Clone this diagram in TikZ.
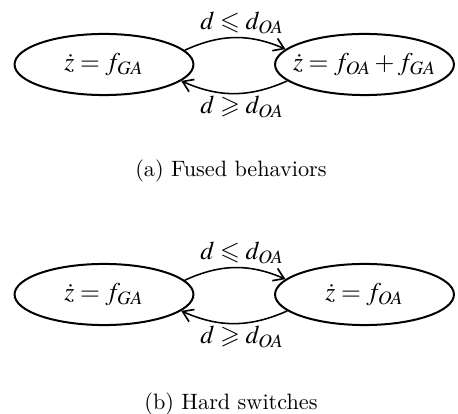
\documentclass[tikz,border=0pt]{standalone}
\usepackage{amssymb}
\usepackage{mathptmx}
\renewcommand{\rmdefault}{cmr}
\usetikzlibrary{shapes.geometric,arrows.meta}
\begin{document}
\begin{tikzpicture}[x=0.45pt,y=-0.45pt,
  state/.style={draw,ellipse,line width=0.9pt,inner xsep=-8pt,inner ysep=0pt,minimum width=80.5pt,minimum height=27.5pt,font=\fontsize{11.5}{14}\selectfont},
  lbl/.style={font=\fontsize{11.5}{14}\selectfont},
  captext/.style={font=\fontsize{10}{12}\fontfamily{cmr}\selectfont},
  trans/.style={line width=0.7pt,-{Straight Barb[length=4.5pt,width=6pt,line width=0.75pt]}}]
\useasboundingbox (0,0) rectangle (458,414);
% (a)
\node[state] (a1) at (104,64.5) {$\dot z = f_{GA}$};
\node[state] (a2) at (364.5,64.5) {$\dot z = f_{OA} + f_{GA}$};
\draw[trans] (a1.10) to[bend left=24] (a2.169);
\draw[trans] (a2.192) to[bend left=24] (a1.348);
\node[lbl] (a3) at (242,23) {$d \leqslant d_{OA}$};
\node[lbl] (a4) at (242,107) {$d \geqslant d_{OA}$};
\node[captext] (ca) at (231,171) {(a) Fused behaviors};
% (b)
\node[state] (b1) at (104,294.5) {$\dot z = f_{GA}$};
\node[state] (b2) at (364.5,294.5) {$\dot z = f_{OA}$};
\draw[trans] (b1.10) to[bend left=24] (b2.169);
\draw[trans] (b2.192) to[bend left=24] (b1.348);
\node[lbl] (b3) at (242,253) {$d \leqslant d_{OA}$};
\node[lbl] (b4) at (242,337) {$d \geqslant d_{OA}$};
\node[captext] (cb) at (231,404) {(b) Hard switches};
\end{tikzpicture}
\end{document}
